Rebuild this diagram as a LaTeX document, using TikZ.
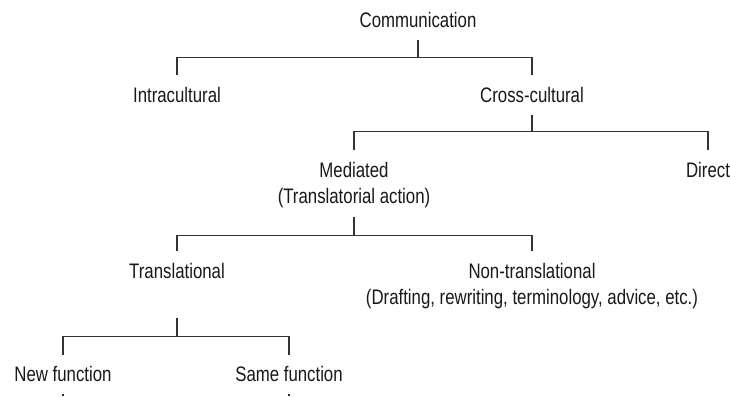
\documentclass[tikz,border=0pt]{standalone}
\usepackage{fontspec}
\setmainfont{Liberation Sans}[FakeStretch=0.8]
\begin{document}
\begin{tikzpicture}[x=1pt,y=1pt,
  lbl/.style={inner sep=0pt, outer ysep=12pt, text=black!90, font=\fontsize{21}{26}\selectfont, align=center, anchor=north},
  ln/.style={draw=black!80, line width=1.1pt}]
\useasboundingbox[fill=white] (0,0) rectangle (730,396);
% nodes (north anchor = 12pt above the top of the text)
\node[lbl] (comm)   at (418,395.3) {Communication};
\node[lbl] (intra)  at (177,320.5) {Intracultural};
\node[lbl] (cross)  at (532,320.5) {Cross-cultural};
\node[lbl] (med)    at (354,245.5) {Mediated\\(Translatorial action)};
\node[lbl] (direct) at (708,245.5) {Direct};
\node[lbl] (trl)    at (177,144.5) {Translational};
\node[lbl] (nontrl) at (532,144.5) {Non-translational\\(Drafting, rewriting, terminology, advice, etc.)};
\node[lbl] (newf)   at (63,41.5) {New function};
\node[lbl] (samef)  at (289,41.5) {Same function};
\coordinate (e1) at (63,0);
\coordinate (e2) at (289,0);
% connectors
\draw[ln] (comm.south) -- ++(0,-17) coordinate (b1) -| (intra.north);
\draw[ln] (b1) -| (cross.north);
\draw[ln] (cross.south) -- ++(0,-17) coordinate (b2) -| (med.north);
\draw[ln] (b2) -| (direct.north);
\draw[ln] ([yshift=3pt]med.south) -- ++(0,-18) coordinate (b3) -| (trl.north);
\draw[ln] (b3) -| (nontrl.north);
\draw[ln] ([yshift=-27pt]trl.south) -- ++(0,-19) coordinate (b4) -| (newf.north);
\draw[ln] (b4) -| (samef.north);
\draw[ln] (newf.south) -- (e1);
\draw[ln] (samef.south) -- (e2);
\end{tikzpicture}
\end{document}
